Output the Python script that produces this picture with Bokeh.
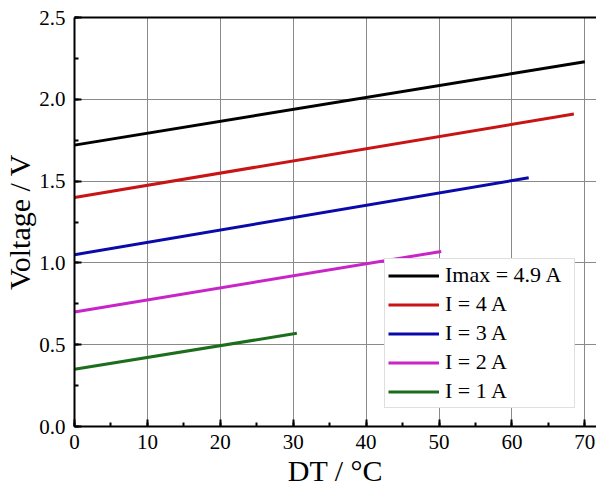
from bokeh.plotting import figure
from bokeh.models import (Range1d, Legend, LegendItem, SingleIntervalTicker, LinearAxis,
                          FixedTicker, CustomJSTickFormatter)
from bokeh.embed import file_html
from bokeh.resources import INLINE

# Data
labels = ["Imax = 4.9 A", "I = 4 A", "I = 3 A", "I = 2 A", "I = 1 A"]
colors = ["#000000", "#c81414", "#0a0aaa", "#c824c8", "#1c6e1c"]
dt_start = [0, 0, 0, 0, 0]
dt_end = [70.0, 68.5, 62.3, 50.3, 30.5]
v_start = [1.72, 1.40, 1.05, 0.70, 0.35]
v_end = [2.23, 1.91, 1.52, 1.07, 0.57]

FONT = "Liberation Serif"

p = figure(width=596, height=491, output_backend="svg", toolbar_location=None,
           x_range=Range1d(0, 71.6), y_range=Range1d(0, 2.5),
           min_border_left=73, min_border_right=0, min_border_top=17, min_border_bottom=65)
p.outline_line_color = None
p.background_fill_color = "white"
p.border_fill_color = "white"

p.xaxis.ticker = SingleIntervalTicker(interval=10, num_minor_ticks=2)
p.yaxis.ticker = SingleIntervalTicker(interval=0.5, num_minor_ticks=2)
p.xaxis.axis_label = "DT / °C"
p.yaxis.axis_label = "Voltage / V"

for ax in (p.xaxis[0], p.yaxis[0]):
    ax.axis_line_width = 2
    ax.axis_line_color = "black"
    ax.major_tick_in = 7
    ax.major_tick_out = 0
    ax.minor_tick_in = 4
    ax.minor_tick_out = 0
    ax.major_tick_line_width = 2
    ax.minor_tick_line_width = 2
    ax.major_tick_line_color = "black"
    ax.minor_tick_line_color = "black"
    ax.major_label_text_font = FONT
    ax.major_label_text_font_size = "21px"
    ax.major_label_text_color = "black"
    ax.axis_label_text_font = FONT
    ax.axis_label_text_font_size = "30px"
    ax.axis_label_text_font_style = "normal"
    ax.axis_label_text_color = "black"

p.xaxis.major_label_standoff = 8
p.yaxis.major_label_standoff = 9
p.xaxis.axis_label_standoff = 2
p.yaxis.axis_label_standoff = 0
p.yaxis.formatter = CustomJSTickFormatter(code="return tick.toFixed(1);")

# top border of the frame (no ticks, no labels)
top = LinearAxis(ticker=FixedTicker(ticks=[]), axis_line_width=2, axis_line_color="black",
                 major_tick_line_color=None, minor_tick_line_color=None)
p.add_layout(top, "above")

p.xgrid.grid_line_color = "#8a8a8a"
p.ygrid.grid_line_color = "#8a8a8a"
p.xgrid.grid_line_width = 1
p.ygrid.grid_line_width = 1

items = []
for lab, c, x0, x1, y0, y1 in zip(labels, colors, dt_start, dt_end, v_start, v_end):
    r = p.line([x0, x1], [y0, y1], line_color=c, line_width=3)
    items.append(LegendItem(label=lab, renderers=[r]))

legend = Legend(items=items, location=(310, 18))
legend.label_text_font = FONT
legend.label_text_font_size = "22px"
legend.label_text_color = "black"
legend.glyph_width = 51
legend.glyph_height = 25
legend.label_height = 25
legend.label_width = 126
legend.spacing = 3
legend.padding = 3
legend.margin = 0
legend.label_standoff = 6
legend.border_line_color = "#c0c0c0"
legend.border_line_width = 1
legend.background_fill_alpha = 1
p.add_layout(legend, "center")

open("out.html", "w").write(file_html(p, INLINE))
